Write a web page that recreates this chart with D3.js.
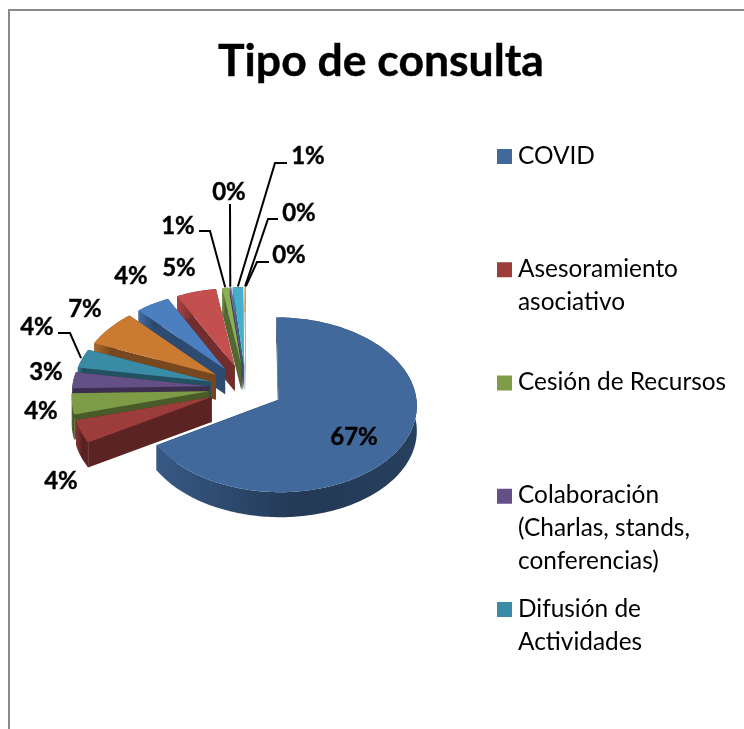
<!DOCTYPE html>
<html>
<head>
<meta charset="utf-8">
<script src="https://cdn.jsdelivr.net/npm/d3@7"></script>
<style>
  html, body { margin: 0; background: #fff; overflow: hidden; }
  svg { display: block; filter: blur(0.45px); }
  text { font-family: Lato, "Open Sans", sans-serif; fill: #000; }
</style>
</head>
<body>
<div id="chart"></div>
<script>
// values (labels are rounded, slivers estimated)
var categories = ["COVID", "Asesoramiento asociativo", "Cesión de Recursos",
  "Colaboración (Charlas, stands, conferencias)", "Difusión de Actividades",
  "Otros 1", "Otros 2", "Otros 3", "Otros 4", "Otros 5", "Otros 6", "Otros 7", "Otros 8"];
var values = [66.6, 4.2, 3.9, 3, 3.6, 6.9, 4.3, 5.1, 0.8, 0.2, 1.3, 0.12, 0.03];
var percentLabels = ["67%", "4%", "4%", "3%", "4%", "7%", "4%", "5%", "1%", "0%", "1%", "0%", "0%"];
var colors = ["#41699c", "#9c3d3c", "#7e9b47", "#644f86", "#3a8ba5", "#cb7a32",
  "#4c7fbf", "#c34f4f", "#8cb054", "#7a63a3", "#44b0cc", "#f0a060", "#5a8fd0"];
var legendLines = [["COVID"], ["Asesoramiento", "asociativo"], ["Cesión de Recursos"],
  ["Colaboración", "(Charlas, stands,", "conferencias)"], ["Difusión de", "Actividades"]];

var width = 744, height = 729;

var svg = d3.select("#chart").append("svg")
  .attr("width", width)
  .attr("height", height);

// chart frame, runs off the right and bottom of the page
svg.append("path")
  .attr("d", "M9," + height + "V10H" + width)
  .attr("fill", "none")
  .attr("stroke", "#8a8a8a")
  .attr("stroke-width", 2);

svg.append("text")
  .attr("x", 381)
  .attr("y", 76)
  .attr("text-anchor", "middle")
  .style("font-size", "44.5px")
  .style("font-weight", 700)
  .style("stroke", "#000")
  .style("stroke-width", 0.4)
  .text("Tipo de consulta");

// pie geometry, all slices pushed out along their mid angle
var cx = 246, cy = 388, rx = 137, ry = 86, explode = 0.27, depth = 25, persp = 0.06;

function project(u, v, drop) {
  var s = 1 + persp * v;
  return [cx + u * rx * s, cy + v * ry * s + (drop || 0)];
}

var pie = d3.pie().sort(null).value(function(d) { return d; });
var slices = pie(values);
var line = d3.line();

function apex(d) {
  var mid = (d.startAngle + d.endAngle) / 2;
  return [explode * Math.sin(mid), -explode * Math.cos(mid)];
}
function rimPoint(d, a, r) {
  var o = apex(d);
  return [o[0] + (r || 1) * Math.sin(a), o[1] - (r || 1) * Math.cos(a)];
}
function rimAngles(d) {
  var n = Math.max(2, Math.ceil((d.endAngle - d.startAngle) / 0.02));
  return d3.range(n + 1).map(function(i) {
    return d.startAngle + (d.endAngle - d.startAngle) * i / n;
  });
}
function poly(points, drop) {
  return points.map(function(p) { return project(p[0], p[1], drop); });
}

var defs = svg.append("defs");
var g = svg.append("g");

// last slice first so that COVID ends up on top
slices.slice().reverse().forEach(function(d) {
  var c = colors[d.index];
  var o = apex(d);
  var rim = rimAngles(d).map(function(a) { return rimPoint(d, a); });
  var wall = d3.color(c).darker(1.5).formatHex();
  var sg = g.append("g").attr("class", "slice");

  [rim[0], rim[rim.length - 1]].forEach(function(p) {
    var top = poly([o, p]);
    var bottom = poly([p, o], depth);
    sg.append("path")
      .attr("d", line(top.concat(bottom)) + "Z")
      .attr("fill", wall);
  });

  var xs = poly(rim).map(function(p) { return p[0]; });
  var id = "side" + d.index;
  var grad = defs.append("linearGradient")
    .attr("id", id)
    .attr("gradientUnits", "userSpaceOnUse")
    .attr("x1", d3.min(xs)).attr("y1", 0)
    .attr("x2", d3.max(xs)).attr("y2", 0);
  grad.append("stop").attr("offset", "0%").attr("stop-color", d3.color(c).darker(0.45).formatHex());
  grad.append("stop").attr("offset", "55%").attr("stop-color", d3.color(c).darker(1.7).formatHex());
  grad.append("stop").attr("offset", "100%").attr("stop-color", d3.color(c).darker(1.4).formatHex());

  sg.append("path")
    .attr("d", line(poly(rim).concat(poly(rim.slice().reverse(), depth))) + "Z")
    .attr("fill", "url(#" + id + ")");

  sg.append("path")
    .attr("d", line(poly([o].concat(rim))) + "Z")
    .attr("fill", c);
});

// label placement: centre of each text, and the elbow of its leader if it has one
var labelCenters = [[354, 436], [61, 480], [41, 410], [46, 371], [37, 326], [85, 308],
  [131, 275], [179, 267], [178, 225], [229, 191], [308, 155], [299, 212], [289, 254]];
var leaderPaths = {
  4: [[58, 333], [70, 333]],
  8: [[199, 231], [210, 231]],
  9: [[230, 204]],
  10: [[287, 163], [275, 163]],
  11: [[278, 219], [268, 219]],
  12: [[269, 262], [257, 262]]
};

Object.keys(leaderPaths).forEach(function(k) {
  var d = slices[+k];
  var mid = (d.startAngle + d.endAngle) / 2;
  var end = poly([rimPoint(d, mid, 1.01)])[0];
  svg.append("path")
    .attr("d", line(leaderPaths[k].concat([end])))
    .attr("fill", "none")
    .attr("stroke", "#000")
    .attr("stroke-width", 2);
});

svg.selectAll(".pct")
  .data(percentLabels)
  .enter().append("text")
  .attr("class", "pct")
  .attr("x", function(d, i) { return labelCenters[i][0]; })
  .attr("y", function(d, i) { return labelCenters[i][1]; })
  .attr("text-anchor", "middle")
  .attr("dy", "0.36em")
  .style("font-size", "24px")
  .style("font-weight", 700)
  .style("stroke", "#000")
  .style("stroke-width", 0.4)
  .text(function(d) { return d; });

// legend
var legendY = d3.scaleLinear().domain([0, 4]).range([156.5, 609.5]);

var legend = svg.selectAll(".legendItem")
  .data(legendLines)
  .enter().append("g")
  .attr("class", "legendItem")
  .attr("transform", function(d, i) { return "translate(497," + legendY(i) + ")"; });

legend.append("rect")
  .attr("y", -7.5)
  .attr("width", 15)
  .attr("height", 15)
  .attr("fill", function(d, i) { return colors[i]; });

legend.selectAll("text")
  .data(function(d) { return d; })
  .enter().append("text")
  .attr("x", 21)
  .attr("y", function(d, i) { return 7 + i * 33; })
  .style("font-size", "24.4px")
  .text(function(d) { return d; });
</script>
</body>
</html>
